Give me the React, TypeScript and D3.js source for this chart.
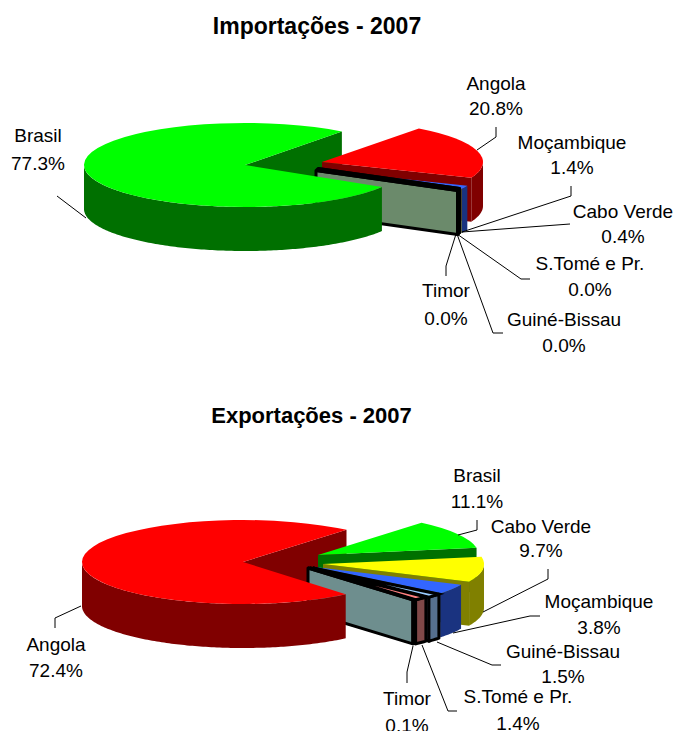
import * as d3 from "d3";

// Imports, clockwise from the back edge of Angola
const importNames = ["Angola", "Moçambique", "Cabo Verde", "S.Tomé e Pr.", "Guiné-Bissau", "Timor", "Brasil"];
const importValues = [20.8, 1.4, 0.4, 0.0, 0.0, 0.0, 77.3];

// Exports, clockwise from the back edge of Brasil
const exportNames = ["Brasil", "Cabo Verde", "Moçambique", "Guiné-Bissau", "S.Tomé e Pr.", "Timor", "Angola"];
const exportValues = [11.1, 9.7, 3.8, 1.5, 1.4, 0.1, 72.4];

const topColors: Record<string, string> = {
    Brasil: "#00ff00",
    Angola: "#ff0000",
    "Cabo Verde": "#ffff00",
    "Moçambique": "#3366ff",
    "Guiné-Bissau": "#99ccff",
    "S.Tomé e Pr.": "#ff8080",
    Timor: "#808080",
};
const sideColors: Record<string, string> = {
    Brasil: "#007000",
    Angola: "#800000",
    "Cabo Verde": "#808000",
    "Moçambique": "#1a3380",
    "Guiné-Bissau": "#56708f",
    "S.Tomé e Pr.": "#804848",
    Timor: "#6e8e8e",
};
const outlined = ["Guiné-Bissau", "S.Tomé e Pr.", "Timor"];

const RX = 161;
const RY = 42;
const DEPTH = 44;
const FONT = "'Liberation Sans', Arial, sans-serif";

type Pt = [number, number];

interface PieLayout {
    names: string[];
    values: number[];
    startDeg: number;
    bigTrimDeg: number; // the perspective eats a little of the big slice's front edge
    center: Pt;
    offsets: Pt[]; // how far each slice is pulled out
    timorWall: string;
    title: { text: string; x: number; y: number; size: number };
    labels: { x: number; y1: number; y2: number }[];
    leaders: Pt[][];
}

const charts: PieLayout[] = [
    {
        names: importNames,
        values: importValues,
        startDeg: 37,
        bigTrimDeg: 3.3,
        center: [245, 165],
        offsets: [[77, -3], [73, 5], [73, 5], [72, 4.5], [73, 3.5], [71, 5.5], [0, 0]],
        timorWall: "#6b8a6b",
        title: { text: "Importações - 2007", x: 317, y: 34, size: 23 },
        labels: [
            { x: 496, y1: 90, y2: 115 },
            { x: 572, y1: 149, y2: 174 },
            { x: 623, y1: 218, y2: 243 },
            { x: 590, y1: 270, y2: 296 },
            { x: 564, y1: 326, y2: 352 },
            { x: 446, y1: 297, y2: 325 },
            { x: 38, y1: 142, y2: 170 },
        ],
        leaders: [
            [[496, 127], [496, 137], [477, 150]],
            [[571, 186], [571, 196], [462, 232]],
            [[570, 224], [462, 232]],
            [[530, 279], [521, 279], [457, 234]],
            [[503, 333], [493, 333], [457, 234]],
            [[446, 276], [446, 266], [456, 234]],
            [[57, 196], [86, 218]],
        ],
    },
    {
        names: exportNames,
        values: exportValues,
        startDeg: 40,
        bigTrimDeg: 1,
        center: [243, 562],
        offsets: [[75, -7], [80, 2], [72, 5], [70, 6], [67, 6], [65, 6], [0, 0]],
        timorWall: "#6e8e8e",
        title: { text: "Exportações - 2007", x: 311.5, y: 423, size: 22 },
        labels: [
            { x: 477, y1: 482, y2: 508 },
            { x: 541, y1: 533, y2: 557 },
            { x: 599, y1: 608, y2: 634 },
            { x: 563, y1: 658, y2: 683 },
            { x: 518, y1: 703, y2: 730 },
            { x: 407, y1: 705, y2: 732 },
            { x: 56, y1: 651, y2: 677 },
        ],
        leaders: [
            [[477, 520], [477, 530], [458, 535]],
            [[548, 569], [548, 579], [483, 612]],
            [[540, 616], [530, 616], [453, 633]],
            [[501, 665], [492, 665], [437, 642]],
            [[457, 711], [448, 711], [422, 645]],
            [[407, 683], [407, 672], [413, 646]],
            [[55, 628], [55, 618], [81, 606]],
        ],
    },
];

const lineGen = d3.line();

function rim(c: Pt, a: number, drop = 0): Pt {
    return [c[0] + RX * Math.sin(a), c[1] - RY * Math.cos(a) + drop];
}

// outer wall, only the part of the rim that faces the viewer
function outerWall(c: Pt, a0: number, a1: number) {
    const from = Math.max(a0, Math.PI / 2);
    const to = Math.min(a1, (3 * Math.PI) / 2);
    if (to < from) return null;
    const steps = d3.range(from, to, Math.PI / 180).concat(to);
    const top = steps.map((a) => rim(c, a));
    const bottom = steps.map((a) => rim(c, a, DEPTH)).reverse();
    return lineGen([...top, ...bottom]) + "Z";
}

function endWall(c: Pt, a: number) {
    const p: Pt[] = [c, rim(c, a), rim(c, a, DEPTH), [c[0], c[1] + DEPTH]];
    return lineGen(p) + "Z";
}

function Pie3D({ chart }: { chart: PieLayout }) {
    const start = (chart.startDeg * Math.PI) / 180;
    const arcs = d3.pie<number>()
        .sort(null)
        .startAngle(start)
        .endAngle(start + 2 * Math.PI)(chart.values);
    const topArc = d3.arc<d3.PieArcDatum<number>>().innerRadius(0).outerRadius(RX);
    const last = arcs.length - 1;
    arcs[last] = { ...arcs[last], startAngle: arcs[last].startAngle + (chart.bigTrimDeg * Math.PI) / 180 };

    const sliceAt = (i: number): Pt => [
        chart.center[0] + chart.offsets[i][0],
        chart.center[1] + chart.offsets[i][1],
    ];
    const edgeOf = (name: string) =>
        outlined.includes(name) ? { stroke: "#000", strokeWidth: 3, strokeLinejoin: "round" as const } : {};

    const walls = (i: number) => {
        const name = chart.names[i];
        const outer = outerWall(sliceAt(i), arcs[i].startAngle, arcs[i].endAngle);
        return outer && <path d={outer} fill={sideColors[name]} {...edgeOf(name)} />;
    };
    const top = (i: number) => {
        const name = chart.names[i];
        const c = sliceAt(i);
        const edge = edgeOf(name);
        return (
            <g transform={`translate(${c[0]},${c[1]}) scale(1,${RY / RX})`}>
                <path
                    d={topArc(arcs[i]) as string}
                    fill={topColors[name]}
                    stroke={edge.stroke}
                    strokeWidth={edge.strokeWidth}
                    vectorEffect="non-scaling-stroke"
                />
            </g>
        );
    };

    return (
        <g>
            {/* back cut of the big slice sits behind the pulled out ones */}
            <path d={endWall(sliceAt(last), arcs[last].endAngle)} fill={sideColors[chart.names[last]]} />
            {arcs.slice(0, last).map((d, i) => {
                const name = chart.names[i];
                const wallFill = name === "Timor" ? chart.timorWall : sideColors[name];
                return (
                    <g key={name}>
                        <path d={endWall(sliceAt(i), d.endAngle)} fill={wallFill} {...edgeOf(name)} />
                        {walls(i)}
                        {top(i)}
                    </g>
                );
            })}
            {walls(last)}
            {top(last)}
            {chart.leaders.map((pts, i) => (
                <path key={i} d={lineGen(pts) as string} fill="none" stroke="#000" strokeWidth={1} />
            ))}
            <text x={chart.title.x} y={chart.title.y} textAnchor="middle" fontWeight="bold" fontSize={chart.title.size}>
                {chart.title.text}
            </text>
            {chart.labels.map((l, i) => (
                <g key={i} textAnchor="middle" fontSize={19}>
                    <text x={l.x} y={l.y1}>{chart.names[i]}</text>
                    <text x={l.x} y={l.y2}>{d3.format(".1f")(chart.values[i])}%</text>
                </g>
            ))}
        </g>
    );
}

export default function App() {
    return (
        <svg
            width={676}
            height={731}
            fontFamily={FONT}
            style={{ position: "absolute", left: 0, top: 0, background: "#fff" }}
        >
            {charts.map((c) => (
                <Pie3D key={c.title.text} chart={c} />
            ))}
        </svg>
    );
}
